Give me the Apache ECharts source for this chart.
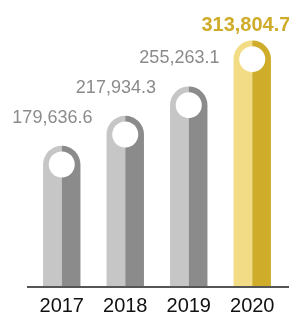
<!DOCTYPE html>
<html>
<head>
<meta charset="utf-8">
<script src="https://cdn.jsdelivr.net/npm/echarts@6/dist/echarts.min.js"></script>
<style>
  html, body { margin: 0; padding: 0; background: #fff; }
  #main { width: 289px; height: 316px; }
</style>
</head>
<body>
<div id="main"></div>
<script>
const years = ['2017', '2018', '2019', '2020'];
const values = [179636.6, 217934.3, 255263.1, 313804.7];
const labels = ['179,636.6', '217,934.3', '255,263.1', '313,804.7'];

const chartDom = document.getElementById('main');
const myChart = echarts.init(chartDom);

const last = values.length - 1;
const halfW = 18.7;
const font = 'Liberation Sans, Arial, Helvetica, sans-serif';

const leftData = values.map((v, i) => ({
    value: v,
    itemStyle: { color: i === last ? '#f2dd86' : '#c6c6c6' },
    label: i === last ? {
        show: true,
        position: 'top',
        distance: 5,
        offset: [3, 0],
        formatter: labels[i],
        color: '#cfac2a',
        fontSize: 20,
        fontWeight: 'bold',
        fontFamily: font
    } : {
        show: true,
        position: 'top',
        distance: 19,
        formatter: labels[i],
        color: '#8b8b8b',
        fontSize: 18,
        fontFamily: font
    }
}));

const rightData = values.map((v, i) => ({
    value: v,
    itemStyle: { color: i === last ? '#cfac2a' : '#8b8b8b' }
}));

const option = {
    animation: false,
    grid: { left: 30, right: 5, top: 12, bottom: 29 },
    xAxis: {
        type: 'category',
        data: years,
        axisLine: { show: true, lineStyle: { color: '#555', width: 2 } },
        axisTick: { show: false },
        axisLabel: { color: '#111', fontSize: 20, fontFamily: font, margin: 9 }
    },
    yAxis: {
        type: 'value',
        min: 0,
        max: 350000,
        show: false,
        splitLine: { show: false }
    },
    series: [
        {
            type: 'bar',
            data: leftData,
            barWidth: halfW,
            barGap: '0%',
            itemStyle: { borderRadius: [halfW, 0, 0, 0] },
            z: 2
        },
        {
            type: 'bar',
            data: rightData,
            barWidth: halfW,
            barGap: '0%',
            itemStyle: { borderRadius: [0, halfW, 0, 0] },
            z: 2
        },
        {
            type: 'scatter',
            data: values,
            symbol: 'circle',
            symbolSize: 26,
            symbolOffset: [0, halfW],
            itemStyle: { color: '#fff', opacity: 1 },
            emphasis: { disabled: true },
            z: 5
        }
    ],
    graphic: [
        {
            type: 'line',
            shape: { x1: 27, y1: 287, x2: 289, y2: 287 },
            style: { stroke: '#555', lineWidth: 2 },
            z: 10
        }
    ]
};
myChart.setOption(option);
</script>
</body>
</html>
